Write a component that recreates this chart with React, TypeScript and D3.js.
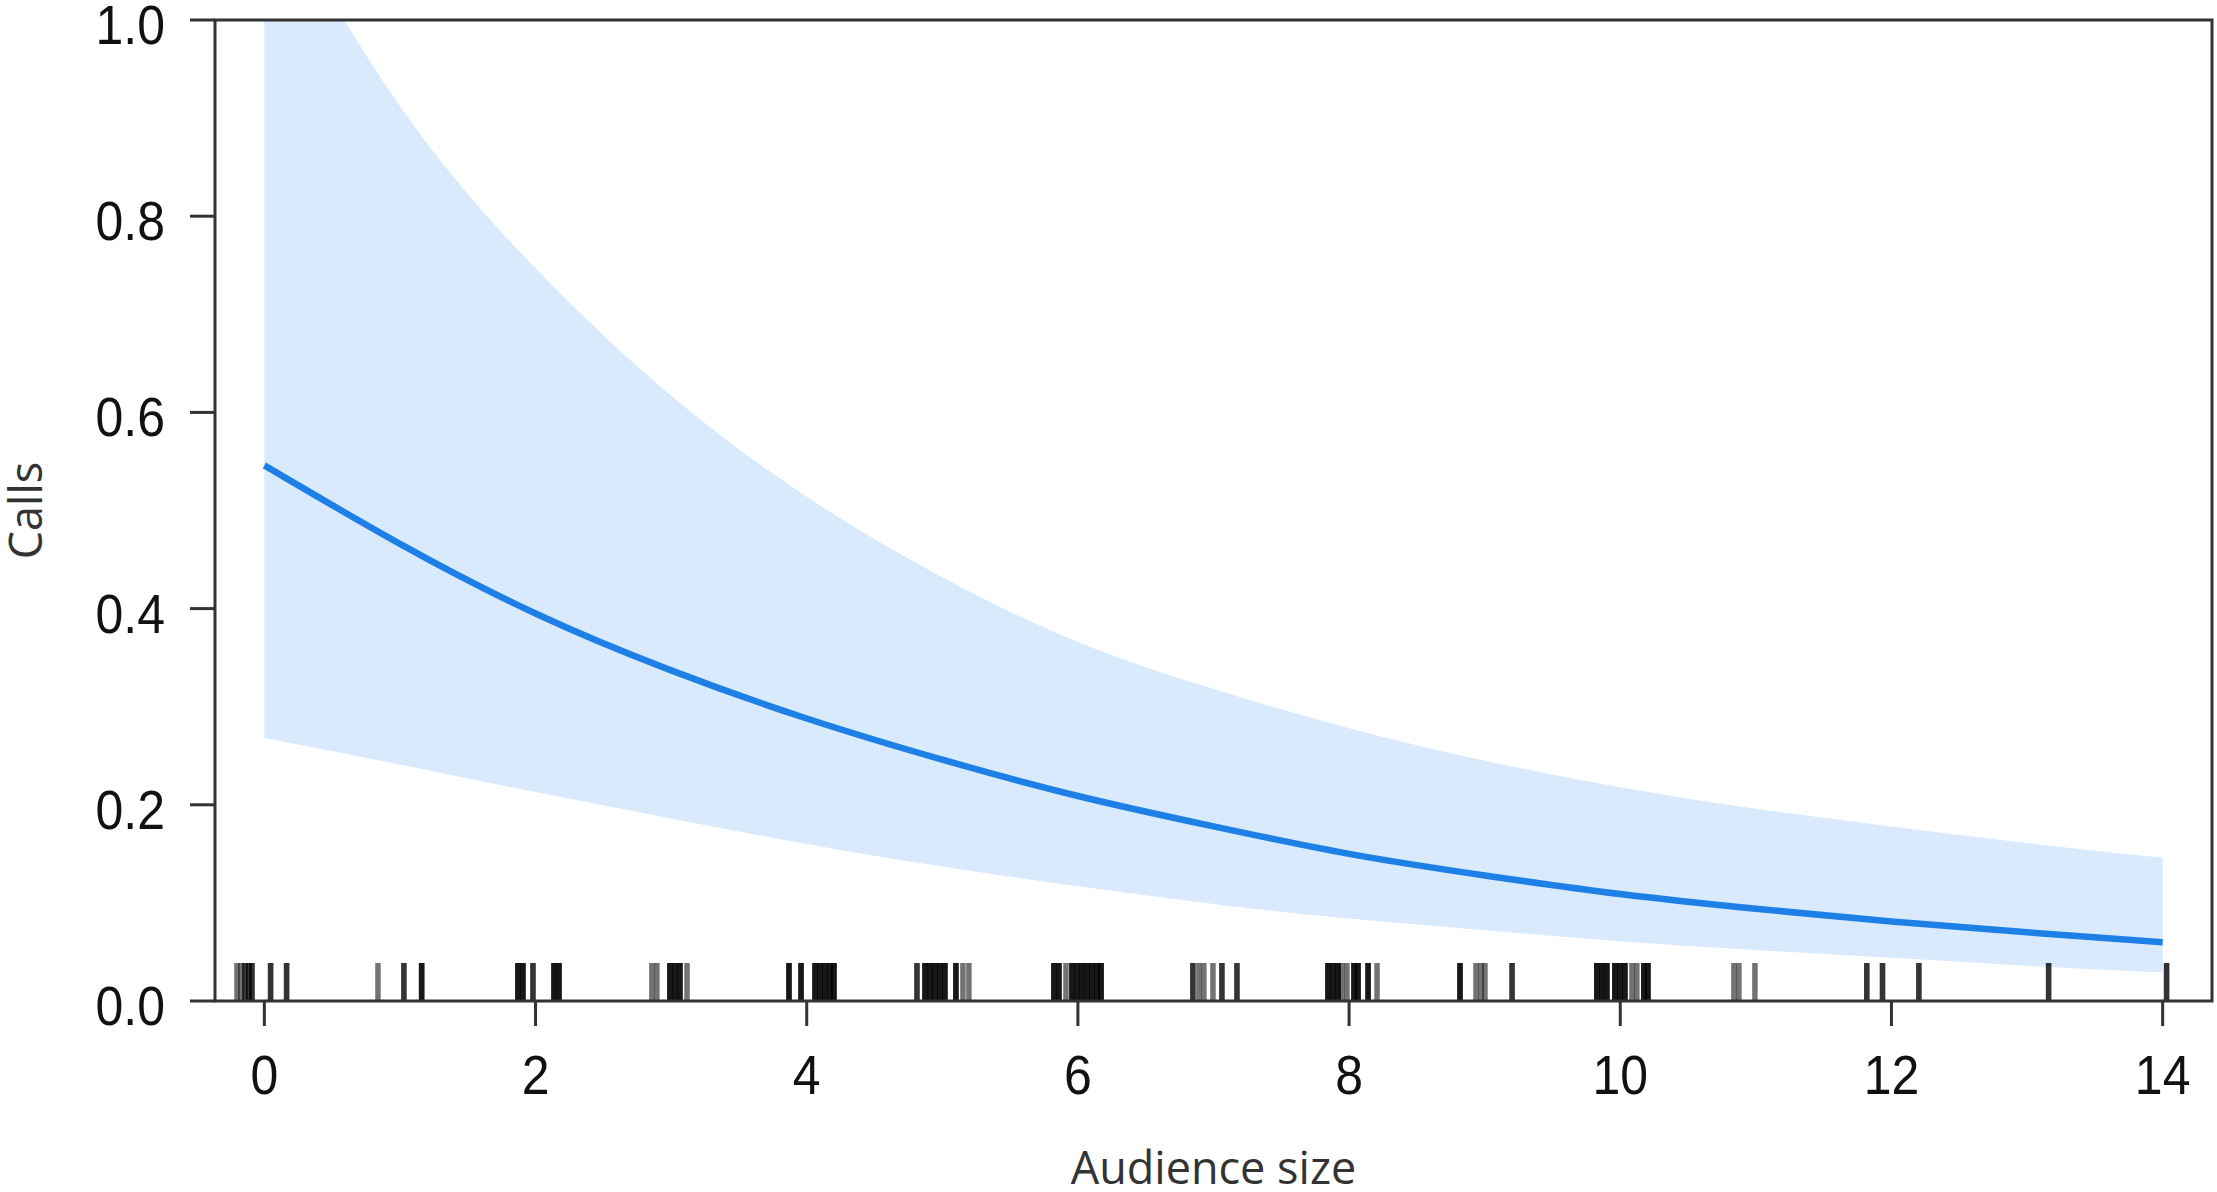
import React from "react";
import * as d3 from "d3";

// ---- data ----
const audience = [0, 1, 2, 3, 4, 5, 6, 7, 8, 9, 10, 11, 12, 13, 14];
const fitCalls = [0.546, 0.466, 0.395, 0.337, 0.288, 0.246, 0.209, 0.178, 0.15, 0.128, 0.109, 0.094, 0.081, 0.07, 0.06];
const upperCI = [1.14, 0.912, 0.747, 0.617, 0.514, 0.432, 0.366, 0.318, 0.278, 0.245, 0.218, 0.196, 0.178, 0.161, 0.146];
const lowerCI = [0.268, 0.241, 0.213, 0.186, 0.16, 0.137, 0.117, 0.099, 0.084, 0.072, 0.061, 0.052, 0.044, 0.036, 0.029];

// observed (jittered) audience sizes shown as a rug; repeats mark overlapping observations
const rugValues = [
  -0.202, -0.173, -0.143, -0.143, -0.113, -0.113, -0.091, -0.091,
  0.046, 0.046, 0.164, 0.164, 0.838, 1.029, 1.029, 1.16, 1.16, 1.16,
  1.87, 1.87, 1.87, 1.907, 1.907, 1.907, 1.981, 1.981,
  2.136, 2.136, 2.136, 2.173, 2.173, 2.173, 2.858, 2.895,
  2.991, 2.991, 2.991, 3.028, 3.028, 3.028, 3.065, 3.065, 3.065, 3.117,
  3.869, 3.869, 3.869, 3.958, 3.958, 3.958,
  4.061, 4.061, 4.061, 4.097, 4.097, 4.097, 4.134, 4.134, 4.134, 4.171, 4.171, 4.171, 4.201, 4.201, 4.201,
  4.813, 4.813, 4.872, 4.872, 4.872, 4.909, 4.909, 4.909, 4.945, 4.945, 4.945, 4.982, 4.982, 4.982, 5.019, 5.019, 5.019,
  5.1, 5.1, 5.1, 5.152, 5.196,
  5.823, 5.823, 5.823, 5.86, 5.86, 5.86, 5.912,
  5.956, 5.956, 5.956, 5.993, 5.993, 5.993, 6.03, 6.03, 6.03, 6.067, 6.067, 6.067,
  6.104, 6.104, 6.104, 6.141, 6.141, 6.141, 6.171, 6.171, 6.171,
  6.848, 6.848, 6.892, 6.929, 6.996, 7.062, 7.062, 7.173, 7.173,
  7.844, 7.844, 7.844, 7.881, 7.881, 7.881, 7.918, 7.918, 7.918, 7.947, 7.984,
  8.036, 8.036, 8.036, 8.066, 8.066, 8.066, 8.14, 8.14, 8.14, 8.206,
  8.818, 8.818, 8.818, 8.936, 8.973, 9.002, 9.202, 9.202,
  9.827, 9.827, 9.827, 9.864, 9.864, 9.864, 9.901, 9.901, 9.901,
  9.96, 9.96, 9.96, 9.997, 9.997, 9.997, 10.034, 10.034, 10.034,
  10.086, 10.122, 10.174, 10.174, 10.174, 10.204, 10.204, 10.204,
  10.838, 10.875, 10.993, 11.818, 11.818, 11.934, 11.934,
  12.202, 12.202, 13.159, 13.159, 14.029, 14.029,
];

const xTickValues = [0, 2, 4, 6, 8, 10, 12, 14];
const yTickValues = [0, 0.2, 0.4, 0.6, 0.8, 1.0];
const xTitle = "Audience size";
const yTitle = "Calls";

const W = 2217;
const H = 1192;

export default function App() {
  const left = 215, right = 2212, top = 20, bottom = 1001;
  const x = d3.scaleLinear().domain([-0.364, 14.364]).range([left, right]);
  const y = d3.scaleLinear().domain([0, 1]).range([bottom, top]);

  const idx = audience.map((_, i) => i);
  const area = d3
    .area<number>()
    .x((i) => x(audience[i]))
    .y0((i) => y(lowerCI[i]))
    .y1((i) => y(upperCI[i]))
    .curve(d3.curveNatural);
  const line = d3
    .line<number>()
    .x((i) => x(audience[i]))
    .y((i) => y(fitCalls[i]))
    .curve(d3.curveNatural);

  const fmt = d3.format(".1f");
  const tickFont = "'Liberation Sans', Arial, sans-serif";
  const titleFont = "'Open Sans', 'Noto Sans', sans-serif";
  const axisColor = "#333";
  const rugLen = 38;

  return (
    <svg
      width={W}
      height={H}
      viewBox={`0 0 ${W} ${H}`}
      style={{ position: "absolute", left: 0, top: 0, display: "block", background: "#fff" }}
    >
      <defs>
        <clipPath id="plotClip">
          <rect x={left} y={top} width={right - left} height={bottom - top} />
        </clipPath>
      </defs>
      <rect x={0} y={0} width={W} height={H} fill="#fff" />
      <g clipPath="url(#plotClip)">
        <path d={area(idx) || ""} fill="#d8eafb" stroke="none" />
        <path d={line(idx) || ""} fill="none" stroke="#1e80e6" strokeWidth={6.5} strokeLinejoin="round" />
        {rugValues.map((v, i) => (
          <line
            key={i}
            x1={x(v)}
            x2={x(v)}
            y1={y(0)}
            y2={y(0) - rugLen}
            stroke="#000"
            strokeOpacity={0.55}
            strokeWidth={5.5}
          />
        ))}
      </g>
      <rect
        x={left}
        y={top}
        width={right - left}
        height={bottom - top}
        fill="none"
        stroke={axisColor}
        strokeWidth={3}
      />
      {xTickValues.map((t) => (
        <g key={"x" + t}>
          <line x1={x(t)} x2={x(t)} y1={bottom} y2={bottom + 25} stroke={axisColor} strokeWidth={3} />
          <text
            transform={`translate(${x(t)},${1094}) scale(1,1.12)`}
            textAnchor="middle"
            fontFamily={tickFont}
            fontSize={50}
            fill="#111"
          >
            {t}
          </text>
        </g>
      ))}
      {yTickValues.map((t) => (
        <g key={"y" + t}>
          <line x1={left - 25} x2={left} y1={y(t)} y2={y(t)} stroke={axisColor} strokeWidth={3} />
          <text
            transform={`translate(${165},${y(t) + 24}) scale(1,1.12)`}
            textAnchor="end"
            fontFamily={tickFont}
            fontSize={50}
            fill="#111"
          >
            {fmt(t)}
          </text>
        </g>
      ))}
      <text
        x={(left + right) / 2}
        y={1184}
        textAnchor="middle"
        fontFamily={titleFont}
        fontSize={45}
        fill="#333"
      >
        {xTitle}
      </text>
      <text
        transform={`translate(${42},${(top + bottom) / 2}) rotate(-90)`}
        textAnchor="middle"
        fontFamily={titleFont}
        fontSize={45}
        fill="#333"
      >
        {yTitle}
      </text>
    </svg>
  );
}
